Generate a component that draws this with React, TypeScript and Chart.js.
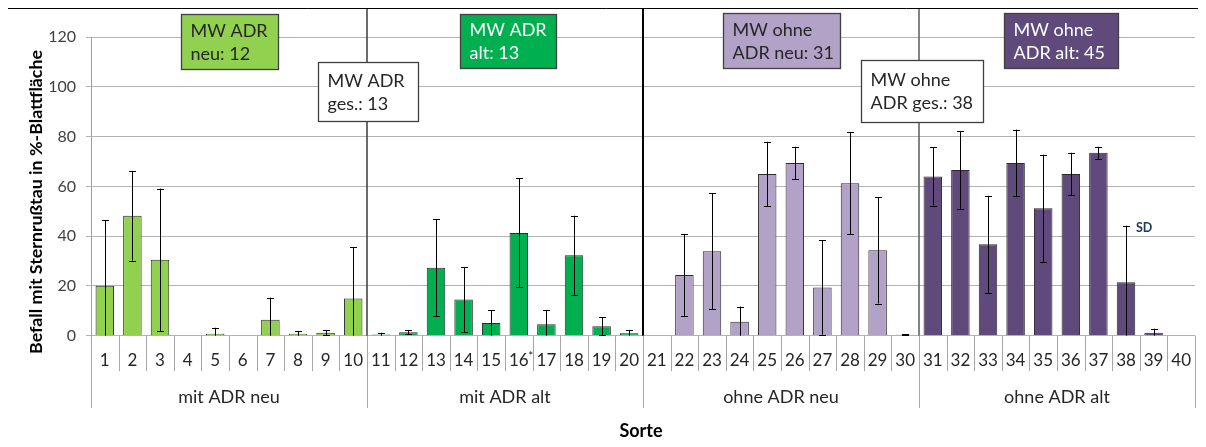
import React, { useEffect, useRef } from "react";
import { Chart, registerables } from "chart.js";

Chart.register(...registerables);

const categories = Array.from({ length: 40 }, (_, i) => String(i + 1));
const values = [
  20.1, 48.2, 30.5, 0, 0.8, 0.3, 6.4, 0.8, 1.2, 14.9,
  0.5, 1.4, 27.3, 14.5, 5.1, 41.3, 4.6, 32.3, 3.8, 1.0,
  0, 24.4, 33.9, 5.6, 65.0, 69.4, 19.4, 61.2, 34.3, 0.4,
  64.0, 66.6, 36.7, 69.4, 51.2, 65.0, 73.5, 21.5, 1.2, 0,
];
const sd = [
  26.3, 18.0, 28.6, 0, 2.4, 0, 8.9, 1.0, 1.1, 20.6,
  0.7, 0.8, 19.5, 13.0, 5.2, 21.9, 5.7, 15.9, 3.6, 1.2,
  0, 16.5, 23.3, 6.1, 12.9, 6.5, 19.0, 20.5, 21.4, 0.2,
  11.7, 15.6, 19.5, 13.4, 21.5, 8.5, 2.4, 22.7, 1.6, 0,
];
const groups = ["mit ADR neu", "mit ADR alt", "ohne ADR neu", "ohne ADR alt"];
const groupColors = ["#92D050", "#00B050", "#B3A2C7", "#604A7B"];
const yTicks = [0, 20, 40, 60, 80, 100, 120];
const boxLines = [
  ["MW ADR", "neu: 12"],
  ["MW ADR", "ges.: 13"],
  ["MW ADR", "alt: 13"],
  ["MW ohne", "ADR neu: 31"],
  ["MW ohne", "ADR ges.: 38"],
  ["MW ohne", "ADR alt: 45"],
];
const yTitle = "Befall mit Sternrußtau in %-Blattfläche";
const xTitle = "Sorte";

// layout (canvas placed at page 7,8)
const OX = 7;
const OY = 8;
const boxStyle = [
  { x: 181, y: 14, w: 97, h: 55, fill: "#92D050", text: "#262626" },
  { x: 318, y: 62, w: 100, h: 59, fill: "#FFFFFF", text: "#262626" },
  { x: 460, y: 14, w: 96, h: 54, fill: "#00B050", text: "#FFFFFF" },
  { x: 723, y: 13, w: 117, h: 55, fill: "#B3A2C7", text: "#262626" },
  { x: 861, y: 60, w: 122, h: 62, fill: "#FFFFFF", text: "#262626" },
  { x: 1004, y: 13, w: 114, h: 55, fill: "#604A7B", text: "#FFFFFF" },
];
const FONT = "Lato, 'Noto Sans', sans-serif";

const overlay = {
  id: "overlay",
  afterDatasetsDraw(chart: any) {
    const ctx = chart.ctx as CanvasRenderingContext2D;
    const x = chart.scales.x;
    const y = chart.scales.y;
    const area = chart.chartArea;
    const y0 = y.getPixelForValue(0);
    const step = (area.right - area.left) / categories.length;
    ctx.save();
    // error bars
    ctx.strokeStyle = "#000";
    ctx.lineWidth = 1;
    values.forEach((v, i) => {
      if (!sd[i]) return;
      const cx = Math.round(x.getPixelForValue(i)) + 0.5;
      const top = y.getPixelForValue(v + sd[i]);
      const lowV = v - sd[i];
      const bot = y.getPixelForValue(Math.max(0, lowV));
      ctx.beginPath();
      ctx.moveTo(cx, top);
      ctx.lineTo(cx, bot);
      ctx.moveTo(cx - 3.5, Math.round(top) + 0.5);
      ctx.lineTo(cx + 3.5, Math.round(top) + 0.5);
      if (lowV > 0) {
        ctx.moveTo(cx - 3.5, Math.round(bot) + 0.5);
        ctx.lineTo(cx + 3.5, Math.round(bot) + 0.5);
      }
      ctx.stroke();
    });
    // group dividers in plot
    const divs = [
      { i: 1, color: "#3a3a3a", w: 1.5 },
      { i: 2, color: "#000000", w: 2 },
      { i: 3, color: "#5a5a5a", w: 1.5 },
    ];
    divs.forEach((d) => {
      const px = area.left + d.i * 10 * step;
      ctx.strokeStyle = d.color;
      ctx.lineWidth = d.w;
      ctx.beginPath();
      ctx.moveTo(px, 0);
      ctx.lineTo(px, y0);
      ctx.stroke();
    });
    // frame
    ctx.strokeStyle = "#000";
    ctx.lineWidth = 1;
    ctx.beginPath();
    ctx.moveTo(0.5, chart.height);
    ctx.lineTo(0.5, 0.5);
    ctx.lineTo(chart.width, 0.5);
    ctx.stroke();
    // separators below axis
    ctx.strokeStyle = "#a6a6a6";
    ctx.lineWidth = 1;
    for (let k = 0; k <= categories.length; k++) {
      const px = Math.round(area.left + k * step) + 0.5;
      const long = k % 10 === 0;
      ctx.beginPath();
      ctx.moveTo(px, y0);
      ctx.lineTo(px, long ? 408 - OY : 371 - OY);
      ctx.stroke();
    }
    // category labels
    ctx.fillStyle = "#262626";
    ctx.font = `17px ${FONT}`;
    ctx.textAlign = "center";
    ctx.textBaseline = "middle";
    categories.forEach((c, i) => {
      const cx = x.getPixelForValue(i);
      ctx.fillText(c, cx, 361 - OY);
    });
    // asterisk after 16
    ctx.font = `12px ${FONT}`;
    const c16 = x.getPixelForValue(15);
    ctx.fillText("*", c16 + 12, 356 - OY);
    // group labels
    ctx.font = `18px ${FONT}`;
    groups.forEach((g, k) => {
      const cx = area.left + (k * 10 + 5) * step;
      ctx.fillText(g, cx, 397 - OY);
    });
    // x title
    ctx.font = `bold 18px ${FONT}`;
    ctx.fillStyle = "#000";
    ctx.fillText(xTitle, (area.left + area.right) / 2 - 2, 431 - OY);
    // y title
    ctx.save();
    ctx.translate(36 - OX, 202 - OY);
    ctx.rotate(-Math.PI / 2);
    ctx.font = `bold 17.8px ${FONT}`;
    ctx.fillText(yTitle, 0, 0);
    ctx.restore();
    // boxes
    boxStyle.forEach((b, k) => {
      const bx = b.x - OX + 0.5;
      const by = b.y - OY + 0.5;
      ctx.fillStyle = b.fill;
      ctx.fillRect(bx, by, b.w, b.h);
      ctx.strokeStyle = "#404040";
      ctx.lineWidth = 1.3;
      ctx.strokeRect(bx, by, b.w, b.h);
      ctx.fillStyle = b.text;
      ctx.font = `18px ${FONT}`;
      ctx.textAlign = "left";
      ctx.textBaseline = "middle";
      const lines = boxLines[k];
      const mid = by + b.h / 2;
      ctx.fillText(lines[0], bx + 9, mid - 11);
      ctx.fillText(lines[1], bx + 9, mid + 12);
    });
    // SD label
    ctx.fillStyle = "#1F3864";
    ctx.font = `bold 12.5px ${FONT}`;
    ctx.textAlign = "left";
    ctx.fillText("SD", 1136 - OX, 228 - OY);
    ctx.restore();
  },
};

export default function App() {
  const ref = useRef<HTMLCanvasElement | null>(null);
  useEffect(() => {
    if (!ref.current) return;
    const colors = values.map((_, i) => groupColors[Math.floor(i / 10)]);
    const chart = new Chart(ref.current, {
      type: "bar",
      data: {
        labels: categories,
        datasets: [
          {
            data: values,
            backgroundColor: colors,
            borderColor: "#2b2b2b",
            borderWidth: 1,
            barPercentage: 0.67,
            categoryPercentage: 1,
          },
        ],
      },
      plugins: [overlay],
      options: {
        animation: false,
        responsive: false,
        devicePixelRatio: 1,
        layout: { padding: { left: 0, right: 11, top: 29, bottom: 0 } },
        plugins: { legend: { display: false }, tooltip: { enabled: false } },
        scales: {
          x: {
            grid: { display: false },
            border: { display: false },
            ticks: { display: false },
            afterFit: (s: any) => {
              s.height = 111.3;
            },
          },
          y: {
            min: 0,
            max: 120,
            afterBuildTicks: (s: any) => {
              s.ticks = yTicks.map((v) => ({ value: v }));
            },
            afterFit: (s: any) => {
              s.width = 84;
            },
            grid: { color: "#b4b4b4", tickLength: 5, lineWidth: 1 },
            border: { color: "#a0a0a0" },
            ticks: {
              padding: 10,
              color: "#404040",
              font: { family: FONT, size: 16 },
            },
          },
        },
      },
    });
    return () => chart.destroy();
  }, []);
  return (
    <div style={{ position: "relative", left: -1, width: 1199, height: 439, overflow: "hidden" }}>
      <canvas ref={ref} width={1199} height={439} style={{ display: "block" }} />
    </div>
  );
}
